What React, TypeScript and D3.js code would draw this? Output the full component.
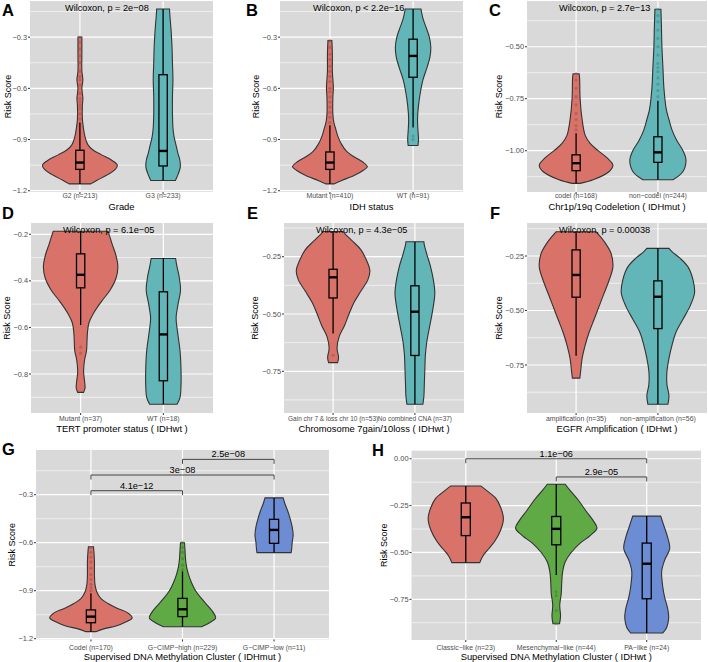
import React from "react";
import * as d3 from "d3";

const FONT = "'Liberation Sans', Arial, Helvetica, sans-serif";
const RED = "#D9736A";
const TEAL = "#63B6B8";
const GREEN = "#5FAA44";
const BLUE = "#6C8DD3";
const BG = "#D9D9D9";

type Box = [number, number, number, number, number]; // lower whisker, q1, median, q3, upper whisker
type Dens = [number, number][]; // [risk score, relative density]

// ---------- A: Grade ----------
const gradeLabels = ["G2 (n=213)", "G3 (n=233)"];
const gradeTicks = [-1.2, -0.9, -0.6, -0.3];
const gradeBoxes: Box[] = [
  [-1.16, -1.075, -1.035, -0.963, -0.8],
  [-1.14, -1.055, -0.967, -0.52, -0.135],
];
const gradeOutliers = [
  [-0.3, -0.33, -0.37, -0.41, -0.45, -0.5, -0.53, -0.55, -0.58, -0.63, -0.66, -0.68, -0.7, -0.72, -0.75, -0.78],
  [],
];
const gradeDensity: Dens[] = [
  [[-1.16, 11], [-1.14, 17], [-1.11, 27], [-1.08, 35], [-1.05, 38], [-1.02, 32], [-0.99, 22], [-0.96, 13], [-0.93, 8], [-0.88, 5], [-0.83, 3.5], [-0.78, 2.5], [-0.7, 2.5], [-0.66, 3], [-0.6, 2], [-0.55, 3], [-0.5, 2], [-0.4, 2], [-0.3, 2]],
  [[-1.14, 12.5], [-1.1, 15.5], [-1.06, 17.5], [-1.02, 17], [-0.98, 15], [-0.93, 13], [-0.88, 11], [-0.83, 10], [-0.75, 9.5], [-0.65, 9.5], [-0.55, 10], [-0.45, 9.5], [-0.35, 9], [-0.25, 8], [-0.18, 7], [-0.135, 6.5]],
];

// ---------- B: IDH status ----------
const idhLabels = ["Mutant (n=410)", "WT (n=91)"];
const idhTicks = [-1.2, -0.9, -0.6, -0.3];
const idhBoxes: Box[] = [
  [-1.16, -1.075, -1.035, -0.973, -0.816],
  [-0.83, -0.535, -0.41, -0.312, -0.135],
];
const idhOutliers = [
  [-0.32, -0.36, -0.4, -0.43, -0.47, -0.5, -0.53, -0.56, -0.6, -0.62, -0.65, -0.68, -0.71, -0.74, -0.77, -0.8],
  [-0.88, -0.9],
];
const idhDensity: Dens[] = [
  [[-1.16, 4], [-1.14, 12], [-1.11, 25], [-1.08, 34], [-1.06, 38], [-1.03, 33], [-1.0, 24], [-0.97, 17], [-0.93, 12], [-0.88, 8], [-0.84, 6], [-0.8, 4], [-0.75, 3], [-0.65, 3], [-0.6, 3.5], [-0.5, 2.5], [-0.4, 2.5], [-0.32, 2]],
  [[-0.935, 5], [-0.9, 5.5], [-0.85, 5], [-0.78, 4.5], [-0.7, 5.5], [-0.62, 7.5], [-0.55, 10], [-0.48, 14], [-0.42, 17], [-0.36, 18], [-0.3, 16.5], [-0.24, 13], [-0.19, 10], [-0.135, 8]],
];

// ---------- C: 1p/19q codeletion ----------
const codelLabels = ["codel (n=168)", "non\u2212codel (n=244)"];
const codelTicks = [-1.0, -0.75, -0.5];
const codelBoxes: Box[] = [
  [-1.157, -1.096, -1.06, -1.02, -0.916],
  [-1.14, -1.056, -1.008, -0.933, -0.76],
];
const codelOutliers = [
  [-0.63, -0.66, -0.7, -0.74, -0.78, -0.82, -0.85, -0.88, -0.9],
  [-0.32, -0.35, -0.38, -0.42, -0.46, -0.5, -0.54, -0.58, -0.6, -0.62, -0.65, -0.68, -0.71, -0.74],
];
const codelDensity: Dens[] = [
  [[-1.157, 4], [-1.14, 17], [-1.1, 33], [-1.07, 36.7], [-1.035, 31], [-1.0, 22], [-0.965, 14], [-0.925, 9], [-0.85, 6], [-0.75, 4], [-0.65, 3.5], [-0.63, 3]],
  [[-1.14, 15], [-1.1, 25], [-1.045, 28], [-1.0, 25], [-0.95, 18.7], [-0.9, 14], [-0.85, 11], [-0.8, 8.3], [-0.7, 6], [-0.6, 5], [-0.5, 4], [-0.4, 3.5], [-0.32, 3]],
];

// ---------- D: TERT promoter ----------
const tertLabels = ["Mutant (n=37)", "WT (n=18)"];
const tertTicks = [-0.8, -0.6, -0.4, -0.2];
const tertBoxes: Box[] = [
  [-0.59, -0.43, -0.374, -0.284, -0.187],
  [-0.93, -0.829, -0.63, -0.447, -0.304],
];
const tertOutliers = [[-0.685, -0.711], []];
const tertDensity: Dens[] = [
  [[-0.879, 3], [-0.86, 4.5], [-0.83, 4], [-0.79, 3], [-0.74, 4], [-0.7, 6], [-0.66, 6.5], [-0.62, 7], [-0.58, 8.5], [-0.54, 13], [-0.49, 21], [-0.44, 30], [-0.39, 36], [-0.34, 38], [-0.29, 36], [-0.24, 32], [-0.2, 29], [-0.187, 28]],
  [[-0.93, 14], [-0.9, 17], [-0.85, 18], [-0.78, 18], [-0.7, 17], [-0.62, 14.5], [-0.56, 13], [-0.5, 15], [-0.44, 17.5], [-0.38, 16], [-0.33, 13.5], [-0.304, 12.5]],
];

// ---------- E: Chr7 gain / 10 loss ----------
const chrLabels = ["Gain chr 7 & loss chr 10 (n=53)", "No combined CNA (n=37)"];
const chrTicks = [-0.75, -0.5, -0.25];
const chrBoxes: Box[] = [
  [-0.585, -0.43, -0.34, -0.305, -0.14],
  [-0.894, -0.681, -0.49, -0.377, -0.185],
];
const chrOutliers = [[-0.68], []];
const chrDensity: Dens[] = [
  [[-0.712, 4.5], [-0.69, 5.5], [-0.65, 4], [-0.6, 6], [-0.55, 11.5], [-0.5, 16], [-0.45, 21], [-0.4, 28], [-0.35, 35], [-0.31, 37], [-0.27, 34], [-0.22, 28], [-0.18, 19], [-0.15, 12], [-0.14, 10]],
  [[-0.894, 8], [-0.86, 9], [-0.8, 9.5], [-0.74, 10], [-0.68, 10.5], [-0.62, 12], [-0.55, 15], [-0.48, 18], [-0.41, 20], [-0.35, 18.5], [-0.29, 15.5], [-0.24, 12], [-0.2, 9.5], [-0.185, 9]],
];

// ---------- F: EGFR amplification ----------
const egfrLabels = ["amplification (n=35)", "non\u2212amplification (n=56)"];
const egfrTicks = [-0.75, -0.5, -0.25];
const egfrBoxes: Box[] = [
  [-0.707, -0.439, -0.337, -0.222, -0.139],
  [-0.93, -0.583, -0.437, -0.364, -0.215],
];
const egfrOutliers = [[], []];
const egfrDensity: Dens[] = [
  [[-0.81, 3.7], [-0.78, 4.5], [-0.72, 6], [-0.66, 9], [-0.6, 13], [-0.54, 18], [-0.48, 23], [-0.42, 28], [-0.36, 33], [-0.3, 36.7], [-0.24, 35], [-0.19, 29], [-0.16, 24], [-0.139, 20]],
  [[-0.93, 10], [-0.89, 11], [-0.84, 9], [-0.78, 9], [-0.72, 11], [-0.66, 14], [-0.6, 18], [-0.54, 25], [-0.48, 32], [-0.42, 36.5], [-0.36, 35], [-0.3, 30], [-0.26, 22], [-0.23, 14], [-0.215, 11]],
];

// ---------- G: methylation cluster IDHmut ----------
const mutLabels = ["Codel (n=170)", "G\u2212CIMP\u2212high (n=229)", "G\u2212CIMP\u2212low (n=11)"];
const mutTicks = [-1.2, -0.9, -0.6, -0.3];
const mutBoxes: Box[] = [
  [-1.156, -1.1, -1.062, -1.02, -0.916],
  [-1.125, -1.062, -1.016, -0.948, -0.78],
  [-0.662, -0.604, -0.52, -0.454, -0.32],
];
const mutOutliers = [
  [-0.63, -0.66, -0.69, -0.72, -0.76, -0.8, -0.83, -0.86, -0.88, -0.9],
  [-0.6, -0.63, -0.66, -0.7, -0.74, -0.77],
  [],
];
const mutDensity: Dens[] = [
  [[-1.156, 5], [-1.14, 12], [-1.12, 25], [-1.1, 33], [-1.07, 41], [-1.04, 37], [-1.01, 26], [-0.98, 17], [-0.95, 10], [-0.91, 6], [-0.86, 4], [-0.8, 3.5], [-0.72, 3.5], [-0.66, 3], [-0.625, 2.5]],
  [[-1.125, 19], [-1.1, 27], [-1.07, 33], [-1.04, 31], [-1.0, 26], [-0.95, 19], [-0.9, 13], [-0.85, 9], [-0.8, 6], [-0.75, 4], [-0.7, 3], [-0.65, 2.5], [-0.6, 2]],
  [[-0.662, 17], [-0.64, 17.5], [-0.6, 18], [-0.55, 19], [-0.5, 18], [-0.45, 16], [-0.4, 13.5], [-0.36, 11], [-0.33, 9.5], [-0.32, 9]],
];
const mutComparisons = [
  { from: 0, to: 1, y: -0.275, label: "4.1e\u221212" },
  { from: 0, to: 2, y: -0.177, label: "3e\u221208" },
  { from: 1, to: 2, y: -0.079, label: "2.5e\u221208" },
];

// ---------- H: methylation cluster IDHwt ----------
const wtLabels = ["Classic\u2212like (n=23)", "Mesenchymal\u2212like (n=44)", "PA\u2212like (n=24)"];
const wtTicks = [-0.75, -0.5, -0.25, 0];
const wtBoxes: Box[] = [
  [-0.554, -0.41, -0.312, -0.236, -0.145],
  [-0.62, -0.459, -0.374, -0.308, -0.136],
  [-0.93, -0.747, -0.56, -0.45, -0.306],
];
const wtOutliers = [[], [-0.71, -0.73, -0.81, -0.88], []];
const wtDensity: Dens[] = [
  [[-0.554, 14], [-0.52, 17], [-0.48, 23], [-0.44, 29], [-0.38, 35], [-0.32, 37.7], [-0.26, 35], [-0.21, 30], [-0.17, 21], [-0.145, 15]],
  [[-0.88, 3.3], [-0.84, 4.3], [-0.78, 3.5], [-0.72, 5], [-0.66, 5.5], [-0.6, 6.5], [-0.55, 9], [-0.5, 15], [-0.45, 24], [-0.41, 34], [-0.37, 40.8], [-0.33, 37], [-0.28, 30], [-0.22, 22], [-0.17, 14], [-0.136, 9]],
  [[-0.93, 16], [-0.9, 20], [-0.85, 22], [-0.8, 21], [-0.74, 18], [-0.68, 16], [-0.6, 15], [-0.54, 18], [-0.48, 23], [-0.42, 21], [-0.37, 18], [-0.33, 15.5], [-0.306, 14]],
];
const wtComparisons = [
  { from: 0, to: 2, y: 0.0, label: "1.1e\u221206" },
  { from: 1, to: 2, y: -0.097, label: "2.9e\u221205" },
];

type PanelCfg = {
  letter: string; lx: number; ly: number;
  x0: number; x1: number; y0: number; y1: number;
  domain: [number, number]; ticks: number[]; fmt: string;
  labels: string[]; colors: string[]; boxes: Box[]; outliers: number[][]; density: Dens[];
  title: string; ylabX: number; xlabY: number; titleY: number; xlabSize?: number;
  ptext?: string; ptextX?: number;
  comparisons?: { from: number; to: number; y: number; label: string }[];
};

const panels: PanelCfg[] = [
  { letter: "A", lx: 2, ly: 16, x0: 30, x1: 213, y0: 1, y1: 192, domain: [-1.2076, -0.088], ticks: gradeTicks, fmt: ".1f",
    labels: gradeLabels, colors: [RED, TEAL], boxes: gradeBoxes, outliers: gradeOutliers, density: gradeDensity,
    title: "Grade", ylabX: 8, xlabY: 198.3, titleY: 210, ptext: "Wilcoxon, p = 2e\u221208", ptextX: 65 },
  { letter: "B", lx: 246, ly: 16, x0: 280, x1: 463, y0: 1, y1: 192, domain: [-1.2076, -0.088], ticks: idhTicks, fmt: ".1f",
    labels: idhLabels, colors: [RED, TEAL], boxes: idhBoxes, outliers: idhOutliers, density: idhDensity,
    title: "IDH status", ylabX: 256, xlabY: 198.3, titleY: 210, ptext: "Wilcoxon, p < 2.2e\u221216", ptextX: 313 },
  { letter: "C", lx: 489, ly: 16, x0: 527, x1: 707, y0: 1, y1: 192, domain: [-1.1986, -0.28], ticks: codelTicks, fmt: ".2f",
    labels: codelLabels, colors: [RED, TEAL], boxes: codelBoxes, outliers: codelOutliers, density: codelDensity,
    title: "Chr1p/19q Codeletion ( IDHmut )", ylabX: 499, xlabY: 198.3, titleY: 210, ptext: "Wilcoxon, p = 2.7e\u221213", ptextX: 559 },
  { letter: "D", lx: 2, ly: 219, x0: 31, x1: 213, y0: 223, y1: 413, domain: [-0.9675, -0.1515], ticks: tertTicks, fmt: ".1f",
    labels: tertLabels, colors: [RED, TEAL], boxes: tertBoxes, outliers: tertOutliers, density: tertDensity,
    title: "TERT promoter status ( IDHwt )", ylabX: 7, xlabY: 420.8, titleY: 432, ptext: "Wilcoxon, p = 6.1e\u221205", ptextX: 63 },
  { letter: "E", lx: 247, ly: 219, x0: 284, x1: 464, y0: 223, y1: 413, domain: [-0.932, -0.103], ticks: chrTicks, fmt: ".2f",
    labels: chrLabels, colors: [RED, TEAL], boxes: chrBoxes, outliers: chrOutliers, density: chrDensity,
    title: "Chromosome 7gain/10loss ( IDHwt )", ylabX: 255, xlabY: 420.8, titleY: 432, xlabSize: 6.5, ptext: "Wilcoxon, p = 4.3e\u221205", ptextX: 316 },
  { letter: "F", lx: 490, ly: 219, x0: 527, x1: 707, y0: 223, y1: 413, domain: [-0.9702, -0.0986], ticks: egfrTicks, fmt: ".2f",
    labels: egfrLabels, colors: [RED, TEAL], boxes: egfrBoxes, outliers: egfrOutliers, density: egfrDensity,
    title: "EGFR Amplification ( IDHwt )", ylabX: 499, xlabY: 420.8, titleY: 432, ptext: "Wilcoxon, p = 0.00038", ptextX: 559 },
  { letter: "G", lx: 2, ly: 455, x0: 36, x1: 329, y0: 450, y1: 639.5, domain: [-1.205, -0.0206], ticks: mutTicks, fmt: ".1f",
    labels: mutLabels, colors: [RED, GREEN, BLUE], boxes: mutBoxes, outliers: mutOutliers, density: mutDensity,
    title: "Supervised DNA Methylation Cluster ( IDHmut )", ylabX: 12, xlabY: 650, titleY: 659.5, comparisons: mutComparisons },
  { letter: "H", lx: 372, ly: 456, x0: 411.5, x1: 701, y0: 450.7, y1: 640, domain: [-0.967, 0.043], ticks: wtTicks, fmt: ".2f",
    labels: wtLabels, colors: [RED, GREEN, BLUE], boxes: wtBoxes, outliers: wtOutliers, density: wtDensity,
    title: "Supervised DNA Methylation Cluster ( IDHwt )", ylabX: 384, xlabY: 650, titleY: 659.5, comparisons: wtComparisons },
];

function Panel({ p }: { p: PanelCfg }) {
  const x = d3.scalePoint<string>().domain(p.labels).range([p.x0, p.x1]).padding(0.6);
  const step = x.step();
  const y = d3.scaleLinear().domain(p.domain).range([p.y1, p.y0]);
  const maxD = d3.max(p.density.flat(), (d) => d[1]) as number;
  const w = d3.scaleLinear().domain([0, maxD]).range([0, step * 0.45]);
  const fmt = d3.format(p.fmt);

  // minor breaks
  const tickStep = p.ticks[1] - p.ticks[0];
  const minor: number[] = [];
  const lo = Math.min(...p.domain), hi = Math.max(...p.domain);
  for (let v = p.ticks[0] - tickStep / 2; v <= hi; v += tickStep) {
    if (v >= lo) minor.push(v);
  }
  const yMid = (p.y0 + p.y1) / 2;
  const boxHalf = step * 0.05;

  return (
    <g>
      <rect x={p.x0} y={p.y0} width={p.x1 - p.x0} height={p.y1 - p.y0} fill={BG} />
      {minor.map((v, i) => (
        <line key={"mn" + i} x1={p.x0} x2={p.x1} y1={y(v)} y2={y(v)} stroke="#fff" strokeWidth={0.6} />
      ))}
      {p.ticks.map((v, i) => (
        <line key={"mj" + i} x1={p.x0} x2={p.x1} y1={y(v)} y2={y(v)} stroke="#fff" strokeWidth={1.2} />
      ))}
      {p.labels.map((l) => (
        <line key={"vx" + l} x1={x(l)} x2={x(l)} y1={p.y0} y2={p.y1} stroke="#fff" strokeWidth={1.2} />
      ))}
      {/* violins */}
      {p.labels.map((l, i) => {
        const cx = x(l) as number;
        const area = d3
          .area<[number, number]>()
          .y((d) => y(d[0]))
          .x0((d) => cx - w(d[1]))
          .x1((d) => cx + w(d[1]))
          .curve(d3.curveCatmullRom.alpha(0.5));
        const b = p.boxes[i];
        const col = d3.color(p.colors[i])!.darker(0.9).formatHex();
        return (
          <g key={"v" + l}>
            <path d={area(p.density[i]) || ""} fill={p.colors[i]} stroke="#333" strokeWidth={1.1} />
            {p.outliers[i].map((o, j) => (
              <circle key={j} cx={cx} cy={y(o)} r={1.6} fill={col} opacity={0.55} />
            ))}
            <line x1={cx} x2={cx} y1={y(b[0])} y2={y(b[1])} stroke="#000" strokeWidth={1.3} />
            <line x1={cx} x2={cx} y1={y(b[3])} y2={y(b[4])} stroke="#000" strokeWidth={1.3} />
            <rect x={cx - boxHalf} y={y(b[3])} width={boxHalf * 2} height={y(b[1]) - y(b[3])} fill="none" stroke="#000" strokeWidth={1.3} />
            <line x1={cx - boxHalf} x2={cx + boxHalf} y1={y(b[2])} y2={y(b[2])} stroke="#000" strokeWidth={2.4} />
          </g>
        );
      })}
      {/* comparisons */}
      {(p.comparisons || []).map((c, i) => {
        const xa = x(p.labels[c.from]) as number;
        const xb = x(p.labels[c.to]) as number;
        const yy = y(c.y);
        return (
          <g key={"c" + i}>
            <path d={`M${xa},${yy + 4.5}V${yy}H${xb}V${yy + 4.5}`} fill="none" stroke="#333" strokeWidth={0.9} />
            <text x={(xa + xb) / 2} y={yy - 2.2} textAnchor="middle" fontSize={9.2} fill="#000">{c.label}</text>
          </g>
        );
      })}
      {/* axes */}
      {p.ticks.map((v, i) => (
        <g key={"yt" + i}>
          <line x1={p.x0 - 2} x2={p.x0} y1={y(v)} y2={y(v)} stroke="#333" strokeWidth={1} />
          <text x={p.x0 - 3} y={y(v)} dy="0.35em" textAnchor="end" fontSize={7.4} fill="#4D4D4D">{fmt(v)}</text>
        </g>
      ))}
      {p.labels.map((l) => (
        <g key={"xt" + l}>
          <line x1={x(l)} x2={x(l)} y1={p.y1} y2={p.y1 + 2} stroke="#333" strokeWidth={1} />
          <text x={x(l)} y={p.xlabY} textAnchor="middle" fontSize={p.xlabSize || 6.9} fill="#4D4D4D">{l}</text>
        </g>
      ))}
      <text x={(p.x0 + p.x1) / 2} y={p.titleY} textAnchor="middle" fontSize={9.4} fill="#000">{p.title}</text>
      <text transform={`translate(${p.ylabX},${yMid}) rotate(-90)`} dy="0.35em" textAnchor="middle" fontSize={9} fill="#000">Risk Score</text>
      {p.ptext && (
        <text x={p.ptextX} y={p.y0 + 9.8} fontSize={9.2} fill="#000">{p.ptext}</text>
      )}
      <text x={p.lx} y={p.ly} fontSize={16.5} fontWeight="bold" fill="#000">{p.letter}</text>
    </g>
  );
}

export default function App() {
  return (
    <svg width={708} height={662} style={{ position: "absolute", left: 0, top: 0, background: "#fff", fontFamily: FONT }}>
      <rect width={708} height={662} fill="#fff" />
      {panels.map((p) => (
        <Panel key={p.letter} p={p} />
      ))}
    </svg>
  );
}
